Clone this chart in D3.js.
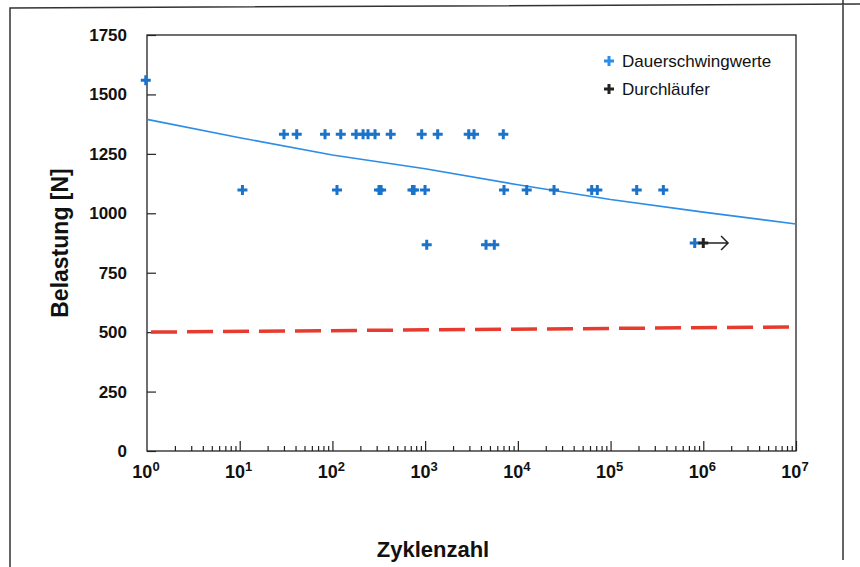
<!DOCTYPE html>
<html lang="de">
<head>
<meta charset="UTF-8">
<title>Belastung vs Zyklenzahl</title>
<script src="https://cdnjs.cloudflare.com/ajax/libs/d3/7.8.5/d3.min.js"></script>
<style>
    body { margin: 0; background: #fff; }
    text { font-family: "Liberation Sans", Arial, sans-serif; }
</style>
</head>
<body>
<div id="chart"></div>
<script>
    // Dauerschwingwerte, three load levels
    var upperN = [30, 41.2, 83.2, 123, 180, 214, 242, 288, 425, 918, 1366, 2951, 3366, 6968];
    var upperF = [1333, 1333, 1333, 1333, 1333, 1333, 1333, 1333, 1333, 1333, 1333, 1333, 1333, 1333];
    var midN = [10.7, 112, 318, 335, 730, 760, 997, 7090, 12460, 24550, 62600, 71950, 191400, 370700];
    var midF = [1098, 1098, 1098, 1098, 1098, 1098, 1098, 1098, 1098, 1098, 1098, 1098, 1098, 1098];
    var lowN = [0.97, 1040, 4536, 5573, 808500];
    var lowF = [1560, 868, 868, 868, 875];

    // Durchläufer (run-out)
    var runoutN = [1000000];
    var runoutF = [875];
    var runoutArrowEnd = 1850000;

    // fitted curve and dashed limit
    var fitN = [1, 10, 100, 1000, 10000, 100000, 1000000, 10000000];
    var fitF = [1395, 1318, 1245, 1187, 1120, 1058, 1005, 955];
    var limitN = [1, 10000000];
    var limitF = [500, 522];

    var yTicks = [0, 250, 500, 750, 1000, 1250, 1500, 1750];
    var xDecades = [0, 1, 2, 3, 4, 5, 6, 7];
    var legendLabels = ["Dauerschwingwerte", "Durchläufer"];

    var width = 860, height = 567;
    var plotLeft = 147, plotRight = 796, plotTop = 35, plotBottom = 451;
    var blue = "#1a72c9";

    var svg = d3.select("#chart").append("svg")
        .attr("width", width)
        .attr("height", height);
    svg.append("rect").attr("width", width).attr("height", height).attr("fill", "#fff");

    // scan frame
    svg.append("path")
        .attr("d", "M10,567V8L860,4M843,0V560")
        .attr("fill", "none")
        .attr("stroke", "#333")
        .attr("stroke-width", 1.5);

    var x = d3.scaleLog().domain([1, 1e7]).range([plotLeft, plotRight]);
    var y = d3.scaleLinear().domain([0, 1750]).range([plotBottom, plotTop]);

    // plot frame
    svg.append("rect")
        .attr("x", plotLeft).attr("y", plotTop)
        .attr("width", plotRight - plotLeft).attr("height", plotBottom - plotTop)
        .attr("fill", "none")
        .attr("stroke", "#222")
        .attr("stroke-width", 1.3);

    // y axis
    var yAxis = svg.append("g")
        .attr("transform", "translate(" + plotLeft + ",0)")
        .call(d3.axisLeft(y).tickValues(yTicks).tickSize(-9).tickPadding(20).tickFormat(d3.format("d")));
    yAxis.select(".domain").remove();
    yAxis.selectAll("line").attr("stroke", "#222").attr("stroke-width", 1.3);
    yAxis.selectAll("text")
        .attr("font-size", 17)
        .attr("font-weight", "bold")
        .attr("fill", "#111")
        .style("font-family", "'Liberation Sans', Arial, sans-serif");

    // x axis minor + decade ticks, pointing up
    var minor = [];
    xDecades.slice(0, -1).forEach(function (d) {
        for (var k = 2; k <= 9; k++) minor.push(k * Math.pow(10, d));
    });
    var majors = xDecades.slice(1).map(function (d) { return Math.pow(10, d); });

    var xMinor = svg.append("g")
        .attr("transform", "translate(0," + plotBottom + ")")
        .call(d3.axisBottom(x).tickValues(minor).tickSize(-5).tickFormat(""));
    xMinor.select(".domain").remove();
    var xMajor = svg.append("g")
        .attr("transform", "translate(0," + plotBottom + ")")
        .call(d3.axisBottom(x).tickValues(majors).tickSize(-10).tickFormat(""));
    xMajor.select(".domain").remove();
    svg.selectAll(".tick line").attr("stroke", "#222").attr("stroke-width", 1.2);

    // x tick labels 10^n
    var xl = svg.append("g").selectAll("text")
        .data(xDecades)
        .enter().append("text")
        .attr("x", function (d) { return x(Math.pow(10, d)) - 1; })
        .attr("y", plotBottom + 27)
        .attr("text-anchor", "middle")
        .attr("font-size", 18)
        .attr("font-weight", "bold")
        .attr("fill", "#111");
    xl.append("tspan").text("10");
    xl.append("tspan")
        .attr("font-size", 13)
        .attr("dy", -7)
        .text(function (d) { return d; });

    // axis titles
    svg.append("text")
        .attr("transform", "translate(68," + ((plotTop + plotBottom) / 2) + ") rotate(-90)")
        .attr("text-anchor", "middle")
        .attr("font-size", 23)
        .attr("font-weight", "bold")
        .attr("fill", "#111")
        .text("Belastung [N]");
    svg.append("text")
        .attr("x", 433)
        .attr("y", 557)
        .attr("text-anchor", "middle")
        .attr("font-size", 22)
        .attr("font-weight", "bold")
        .attr("fill", "#111")
        .text("Zyklenzahl");

    // red dashed limit line
    var line = d3.line()
        .x(function (d) { return x(d[0]); })
        .y(function (d) { return y(d[1]); });

    svg.append("path")
        .datum(d3.zip(limitN, limitF))
        .attr("d", line)
        .attr("fill", "none")
        .attr("stroke", "#e63b2e")
        .attr("stroke-width", 3.5)
        .attr("stroke-dasharray", "26,10")
        .attr("stroke-dashoffset", -4);

    // blue fit line
    svg.append("path")
        .datum(d3.zip(fitN, fitF))
        .attr("d", line)
        .attr("fill", "none")
        .attr("stroke", "#2b8de6")
        .attr("stroke-width", 1.6);

    // markers
    var plus = "M-5,0H5M0,-5V5";
    var points = d3.zip(upperN, upperF)
        .concat(d3.zip(midN, midF))
        .concat(d3.zip(lowN, lowF));

    svg.append("g").selectAll("path")
        .data(points)
        .enter().append("path")
        .attr("d", plus)
        .attr("transform", function (d) { return "translate(" + x(d[0]) + "," + y(d[1]) + ")"; })
        .attr("stroke", blue)
        .attr("stroke-width", 3);

    var runout = d3.zip(runoutN, runoutF);
    svg.append("g").selectAll("path")
        .data(runout)
        .enter().append("path")
        .attr("d", function (d) {
            var x0 = x(d[0]), x1 = x(runoutArrowEnd), yy = y(d[1]);
            return "M" + x0 + "," + yy + "H" + x1 +
                "M" + (x1 - 7) + "," + (yy - 7) + "L" + x1 + "," + yy + "L" + (x1 - 7) + "," + (yy + 7);
        })
        .attr("fill", "none")
        .attr("stroke", "#222")
        .attr("stroke-width", 1.5);
    svg.append("g").selectAll("path")
        .data(runout)
        .enter().append("path")
        .attr("d", plus)
        .attr("transform", function (d) { return "translate(" + x(d[0]) + "," + y(d[1]) + ")"; })
        .attr("stroke", "#222")
        .attr("stroke-width", 3);

    // legend
    var legend = svg.append("g").selectAll("g")
        .data(legendLabels)
        .enter().append("g")
        .attr("transform", function (d, i) { return "translate(609," + (61 + i * 28) + ")"; });
    legend.append("path")
        .attr("d", plus)
        .attr("stroke", function (d, i) { return i === 0 ? "#2b8de6" : "#222"; })
        .attr("stroke-width", 3);
    legend.append("text")
        .attr("x", 13)
        .attr("y", 6)
        .attr("font-size", 17)
        .attr("fill", "#111")
        .text(function (d) { return d; });
</script>
</body>
</html>
